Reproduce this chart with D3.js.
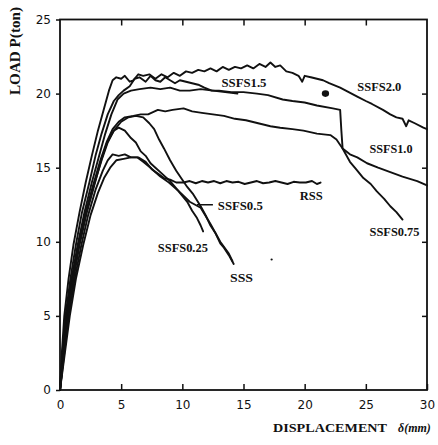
<!DOCTYPE html>
<html>
<head>
<meta charset="utf-8">
<script src="https://cdn.jsdelivr.net/npm/d3@7"></script>
<style>
  html, body { margin: 0; padding: 0; background: #fff; }
  svg { display: block; }
</style>
</head>
<body>
<svg id="chart" width="438" height="445"></svg>
<script>
// ---------- data ----------
const xTicks = [0, 5, 10, 15, 20, 25, 30];
const yTicks = [0, 5, 10, 15, 20, 25];

const curveSSFS20 = [[0,0],[0.15,2.5],[0.35,5],[0.7,7.5],[1.1,9.8],[1.6,12],[2.1,14],[2.6,15.8],[3.1,17.5],[3.6,19.0],[4.0,20.2],[4.3,20.9],[4.6,21.1],[5.0,21.0],[5.3,21.2],[5.7,20.8],[6.0,20.9],[6.4,21.3],[6.8,21.2],[7.3,21.3],[7.8,21.0],[8.3,21.3],[8.8,21.1],[9.3,21.4],[9.8,21.2],[10.3,21.5],[10.8,21.4],[11.3,21.6],[11.8,21.5],[12.3,21.7],[12.8,21.5],[13.3,21.8],[13.8,21.6],[14.3,21.8],[14.8,21.7],[15.3,21.9],[15.8,21.7],[16.3,22.0],[16.8,21.8],[17.2,22.1],[17.6,21.8],[18.0,21.9],[18.5,21.5],[19.0,21.4],[19.5,21.2],[19.8,20.8],[20.0,21.2],[20.5,21.1],[21.0,21.0],[21.5,20.9],[22.0,20.7],[22.9,20.4],[23.6,20.1],[24.3,19.8],[25.0,19.5],[25.5,19.3],[26.4,18.9],[27.0,18.6],[27.5,18.4],[28.0,18.3],[28.3,17.8],[28.5,18.2],[29.0,18.0],[29.7,17.7],[30,17.6]];

const curveSSFS15 = [[0,0],[0.25,2.5],[0.5,5],[0.95,7.5],[1.45,9.8],[2.0,12],[2.6,14],[3.2,15.8],[3.7,17.3],[4.2,18.6],[4.7,19.6],[5.2,20.0],[5.8,20.2],[6.5,20.3],[7.4,20.4],[8.2,20.3],[9.0,20.4],[9.8,20.2],[10.6,20.2],[11.5,20.3],[12.5,20.2],[13.5,20.1],[14.5,20.0]];

const curveSSFS10 = [[0,0],[0.2,2.5],[0.45,5],[0.85,7.5],[1.3,9.8],[1.8,12],[2.4,14],[2.9,15.8],[3.4,17.3],[3.9,18.6],[4.4,19.5],[4.8,19.9],[5.2,20.2],[5.7,20.5],[6.1,21.0],[6.5,21.1],[7.0,20.8],[7.4,21.2],[7.8,20.9],[8.2,20.8],[8.6,21.1],[9.0,20.9],[9.4,20.7],[9.8,20.9],[10.3,20.8],[10.8,20.7],[11.3,20.6],[11.8,20.4],[12.4,20.2],[13.0,20.2],[14.0,20.1],[15.0,20.1],[16.1,20.0],[17.0,19.9],[18.2,19.6],[19.0,19.5],[20.0,19.4],[21.0,19.2],[22.3,19.0],[22.9,18.9],[23.0,17.5],[23.1,16.3],[23.7,15.9],[24.3,15.7],[25.1,15.3],[26.0,15.0],[27.0,14.7],[28.0,14.4],[29.2,14.1],[30,13.8]];

const curveSSFS075 = [[0,0],[0.3,2.5],[0.55,5],[1.0,7.5],[1.5,9.8],[2.1,12],[2.7,13.8],[3.3,15.5],[3.8,16.7],[4.3,17.6],[4.8,18.1],[5.3,18.4],[6.0,18.5],[6.6,18.6],[7.2,18.6],[8.0,18.9],[8.6,18.8],[9.2,18.9],[10.1,19.0],[10.8,18.8],[11.6,18.7],[12.5,18.6],[13.4,18.5],[14.3,18.3],[15.2,18.2],[16.2,18.0],[17.2,17.8],[18.0,17.7],[19.0,17.6],[19.9,17.5],[21.0,17.3],[22.1,17.2],[22.6,16.9],[23.1,16.3],[23.7,15.4],[24.2,14.9],[24.8,14.3],[25.4,13.9],[25.9,13.4],[26.5,12.9],[27.0,12.4],[27.5,12.0],[28.0,11.5]];

const curveSSFS05 = [[0,0],[0.3,2.5],[0.6,5],[1.05,7.5],[1.55,9.8],[2.15,12],[2.8,13.9],[3.4,15.5],[3.9,16.7],[4.4,17.5],[5.0,18.1],[5.6,18.4],[6.2,18.5],[6.8,18.4],[7.3,18.0],[7.7,17.6],[8.1,16.9],[8.5,16.3],[9.0,15.5],[9.5,14.8],[9.9,14.3],[10.4,13.7],[10.9,13.2],[11.5,12.4],[11.9,11.8],[12.3,11.1],[12.7,10.6],[13.1,9.9],[13.4,9.6],[13.8,9.1],[14.2,8.5]];

const curveSSFS025 = [[0,0],[0.3,2.5],[0.65,5],[1.1,7.5],[1.6,9.8],[2.2,12],[2.8,13.8],[3.4,15.6],[3.9,16.8],[4.4,17.5],[4.8,17.7],[5.3,17.5],[5.8,17.0],[6.2,16.7],[6.6,16.1],[7.0,15.8],[7.4,15.3],[7.8,15.0],[8.2,14.7],[8.6,14.4],[9.0,14.1],[9.5,13.6],[10.0,13.1],[10.4,12.7],[10.8,12.1],[11.2,11.6],[11.5,11.1],[11.7,10.7]];

const curveSSS = [[0,0],[0.35,2.5],[0.7,5],[1.2,7.5],[1.75,9.8],[2.3,11.8],[2.9,13.5],[3.5,14.8],[3.9,15.5],[4.3,15.9],[4.8,15.8],[5.3,15.9],[5.8,15.7],[6.3,15.7],[6.8,15.4],[7.4,15.0],[8.2,14.4],[8.9,14.0],[9.6,13.5],[10.6,12.7],[11.5,12.3],[12.3,11.2],[13.1,10.0],[13.8,9.2],[14.1,8.7]];

const curveRSS = [[0,0],[0.4,2.5],[0.8,5],[1.3,7.5],[1.9,9.8],[2.5,11.8],[3.1,13.3],[3.6,14.3],[4.1,15.0],[4.6,15.5],[5.2,15.6],[5.8,15.7],[6.4,15.7],[7.0,15.4],[7.5,14.9],[8.0,14.6],[8.5,14.3],[9.0,14.2],[9.5,14.0],[10.1,14.0],[10.6,14.1],[11.1,13.95],[11.6,14.1],[12.1,14.0],[12.6,14.1],[13.1,13.95],[13.6,14.1],[14.1,14.0],[14.6,14.05],[15.1,13.9],[15.6,14.0],[16.1,14.1],[16.6,13.95],[17.1,14.0],[17.6,14.1],[18.1,14.0],[18.6,13.9],[19.1,14.05],[19.6,14.0],[20.1,14.0],[20.6,14.1],[21.0,13.9],[21.3,14.0]];

const leaderSSFS05 = [[11.2,12.5],[12.5,12.5]];

const labelNames = ["SSFS1.5", "SSFS2.0", "SSFS1.0", "SSFS0.75", "RSS", "SSFS0.5", "SSFS0.25", "SSS"];
const labelX = [13.2, 24.3, 25.3, 25.3, 19.6, 12.9, 8.0, 13.9];
const labelY = [20.7, 20.45, 16.3, 10.7, 13.1, 12.4, 9.6, 7.55];
const labelWidth = [45, 44, 43, 50, 23, 45, 50, 23];

const dotsX = [21.7, 17.3];
const dotsY = [20.0, 8.8];
const dotsR = [3.3, 1];

// ---------- drawing ----------
const svg = d3.select("#chart");
svg.append("rect").attr("width", 438).attr("height", 445).attr("fill", "#fff");

const x = d3.scaleLinear().domain([0, 30]).range([60, 427]);
const y = d3.scaleLinear().domain([0, 25]).range([390, 19.5]);

const ink = "#111";

// frame
svg.append("rect")
  .attr("x", x(0)).attr("y", y(25))
  .attr("width", x(30) - x(0)).attr("height", y(0) - y(25))
  .attr("fill", "none").attr("stroke", ink).attr("stroke-width", 1.8);

const axisStyle = g => {
  g.select(".domain").remove();
  g.selectAll(".tick line").attr("stroke", ink).attr("stroke-width", 1.5);
  g.selectAll(".tick text").attr("fill", ink)
    .style("font-family", "'DejaVu Sans', sans-serif").style("font-size", "12px");
};

svg.append("g").attr("transform", `translate(0,${y(0)})`)
  .call(d3.axisBottom(x).tickValues(xTicks).tickSize(-6).tickPadding(10).tickFormat(d3.format("d")))
  .call(axisStyle);
svg.append("g").attr("transform", `translate(${x(0)},0)`)
  .call(d3.axisLeft(y).tickValues(yTicks).tickSize(4).tickPadding(5).tickFormat(d3.format("d")))
  .call(axisStyle);
svg.append("g").attr("transform", `translate(0,${y(25)})`)
  .call(d3.axisTop(x).tickValues(xTicks.slice(1, -1)).tickSize(-6).tickFormat(""))
  .call(axisStyle);
svg.append("g").attr("transform", `translate(${x(30)},0)`)
  .call(d3.axisRight(y).tickValues(yTicks.slice(1, -1)).tickSize(-5).tickFormat(""))
  .call(axisStyle);

// curves
const line = d3.line().x(d => x(d[0])).y(d => y(d[1]));
const curves = [curveSSFS20, curveSSFS15, curveSSFS10, curveSSFS075, curveSSFS05, curveSSFS025, curveSSS, curveRSS];
svg.append("g").selectAll("path").data(curves).join("path")
  .attr("d", line)
  .attr("fill", "none").attr("stroke", ink).attr("stroke-width", 1.9)
  .attr("stroke-linejoin", "round").attr("stroke-linecap", "round");

svg.append("path").attr("d", line(leaderSSFS05))
  .attr("fill", "none").attr("stroke", ink).attr("stroke-width", 1.5);

// dots
svg.append("g").selectAll("ellipse").data(dotsX).join("ellipse")
  .attr("cx", d => x(d)).attr("cy", (d, i) => y(dotsY[i]))
  .attr("rx", (d, i) => dotsR[i] * 1.1).attr("ry", (d, i) => dotsR[i])
  .attr("fill", ink);

// curve labels
svg.append("g").selectAll("text").data(labelNames).join("text")
  .attr("x", (d, i) => x(labelX[i])).attr("y", (d, i) => y(labelY[i]))
  .attr("dy", "0.35em")
  .attr("textLength", (d, i) => labelWidth[i]).attr("lengthAdjust", "spacingAndGlyphs")
  .style("font-family", "'Liberation Serif', 'Times New Roman', serif")
  .style("font-weight", "bold").style("font-size", "12px")
  .attr("fill", ink)
  .text(d => d);

// axis titles
svg.append("text")
  .attr("transform", `translate(20,51) rotate(-90)`)
  .attr("text-anchor", "middle")
  .attr("textLength", 88).attr("lengthAdjust", "spacingAndGlyphs")
  .style("font-family", "'Liberation Serif', serif").style("font-weight", "bold").style("font-size", "14px")
  .attr("fill", ink)
  .text("LOAD P(ton)");

svg.append("text")
  .attr("x", 273).attr("y", 432)
  .attr("textLength", 114).attr("lengthAdjust", "spacingAndGlyphs")
  .style("font-family", "'Liberation Serif', serif").style("font-weight", "bold").style("font-size", "12px")
  .attr("fill", ink)
  .text("DISPLACEMENT");
svg.append("text")
  .attr("x", 398).attr("y", 432)
  .style("font-family", "'Liberation Serif', serif").style("font-weight", "bold").style("font-style", "italic").style("font-size", "12px")
  .attr("fill", ink)
  .text("δ(mm)");
</script>
</body>
</html>
